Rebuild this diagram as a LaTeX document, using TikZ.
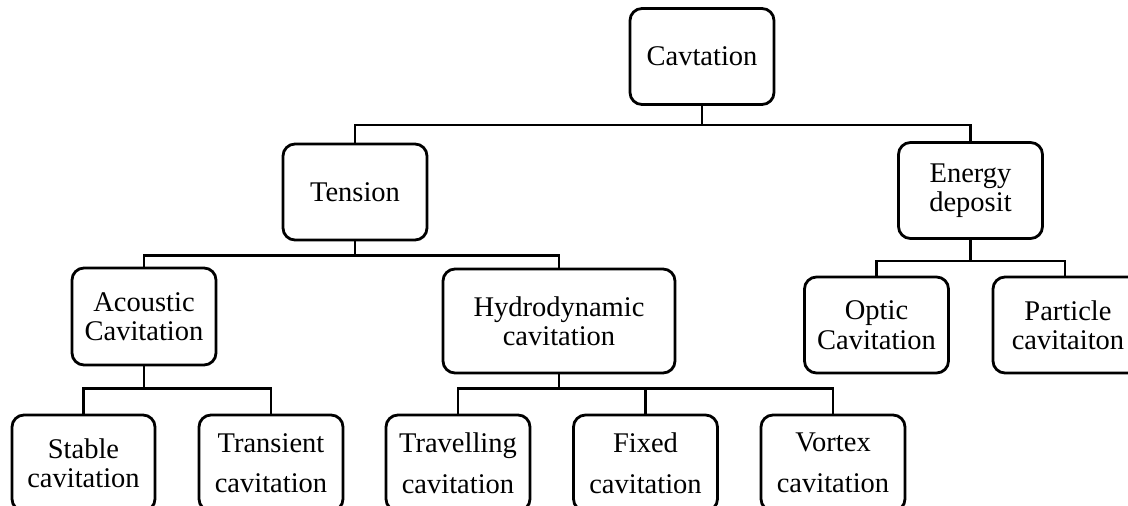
\documentclass[tikz,border=0pt]{standalone}
\usepackage{fontspec}
\setmainfont{Liberation Serif}
\begin{document}
\begin{tikzpicture}[x=1pt,y=-1pt,
  box/.style={draw, line width=2.8pt, rounded corners=12pt, align=center,
    minimum width=144pt, minimum height=96pt, inner sep=0pt,
    font=\fontsize{28.5}{29.5}\selectfont},
  conn/.style={line width=2.8pt}]
\useasboundingbox (0,0) rectangle (1128,506);
\node[box] (cav) at (702,56.5) {Cavtation};
\node[box] (ten) at (355,192) {Tension};
\node[box] (ene) at (970.5,190.5) {Energy\\deposit};
\node[box, minimum height=97pt] (aco) at (144,316.5) {Acoustic\\Cavitation};
\node[box, minimum width=232pt, minimum height=104pt] (hyd) at (559,321) {Hydrodynamic\\cavitation};
\node[box] (opt) at (876.5,325) {Optic\\Cavitation};
\node[box, minimum width=150pt] (par) at (1068,325) {Particle\\cavitaiton};
\node[box, minimum width=143pt] (sta) at (83.5,463) {Stable\\cavitation};
\node[box] (tra) at (271,463) {Transient\\[11pt]cavitation};
\node[box] (trv) at (458,463) {Travelling\\[11pt]cavitation};
\node[box] (fix) at (645.5,463) {Fixed\\[11pt]cavitation};
\node[box] (vor) at (833,463) {Vortex\\[11pt]cavitation};
\draw[conn] (cav.south) -- ++(0,19) -| (ten.north);
\draw[conn] (cav.south) -- ++(0,19) -| (ene.north);
\draw[conn] (ten.south) -- ++(0,14) -| (aco.north);
\draw[conn] (ten.south) -- ++(0,14) -| (hyd.north);
\draw[conn] (ene.south) -- ++(0,21) -| (opt.north);
\draw[conn] (ene.south) -- ++(0,21) -| ([xshift=-3pt]par.north);
\draw[conn] (aco.south) -- ++(0,22) -| (sta.north);
\draw[conn] (aco.south) -- ++(0,22) -| (tra.north);
\draw[conn] (hyd.south) -- ++(0,14) -| (trv.north);
\draw[conn] (hyd.south) -- ++(0,14) -| (vor.north);
\draw[conn] (hyd.south) -- ++(0,14) -| (fix.north);
\end{tikzpicture}
\end{document}
